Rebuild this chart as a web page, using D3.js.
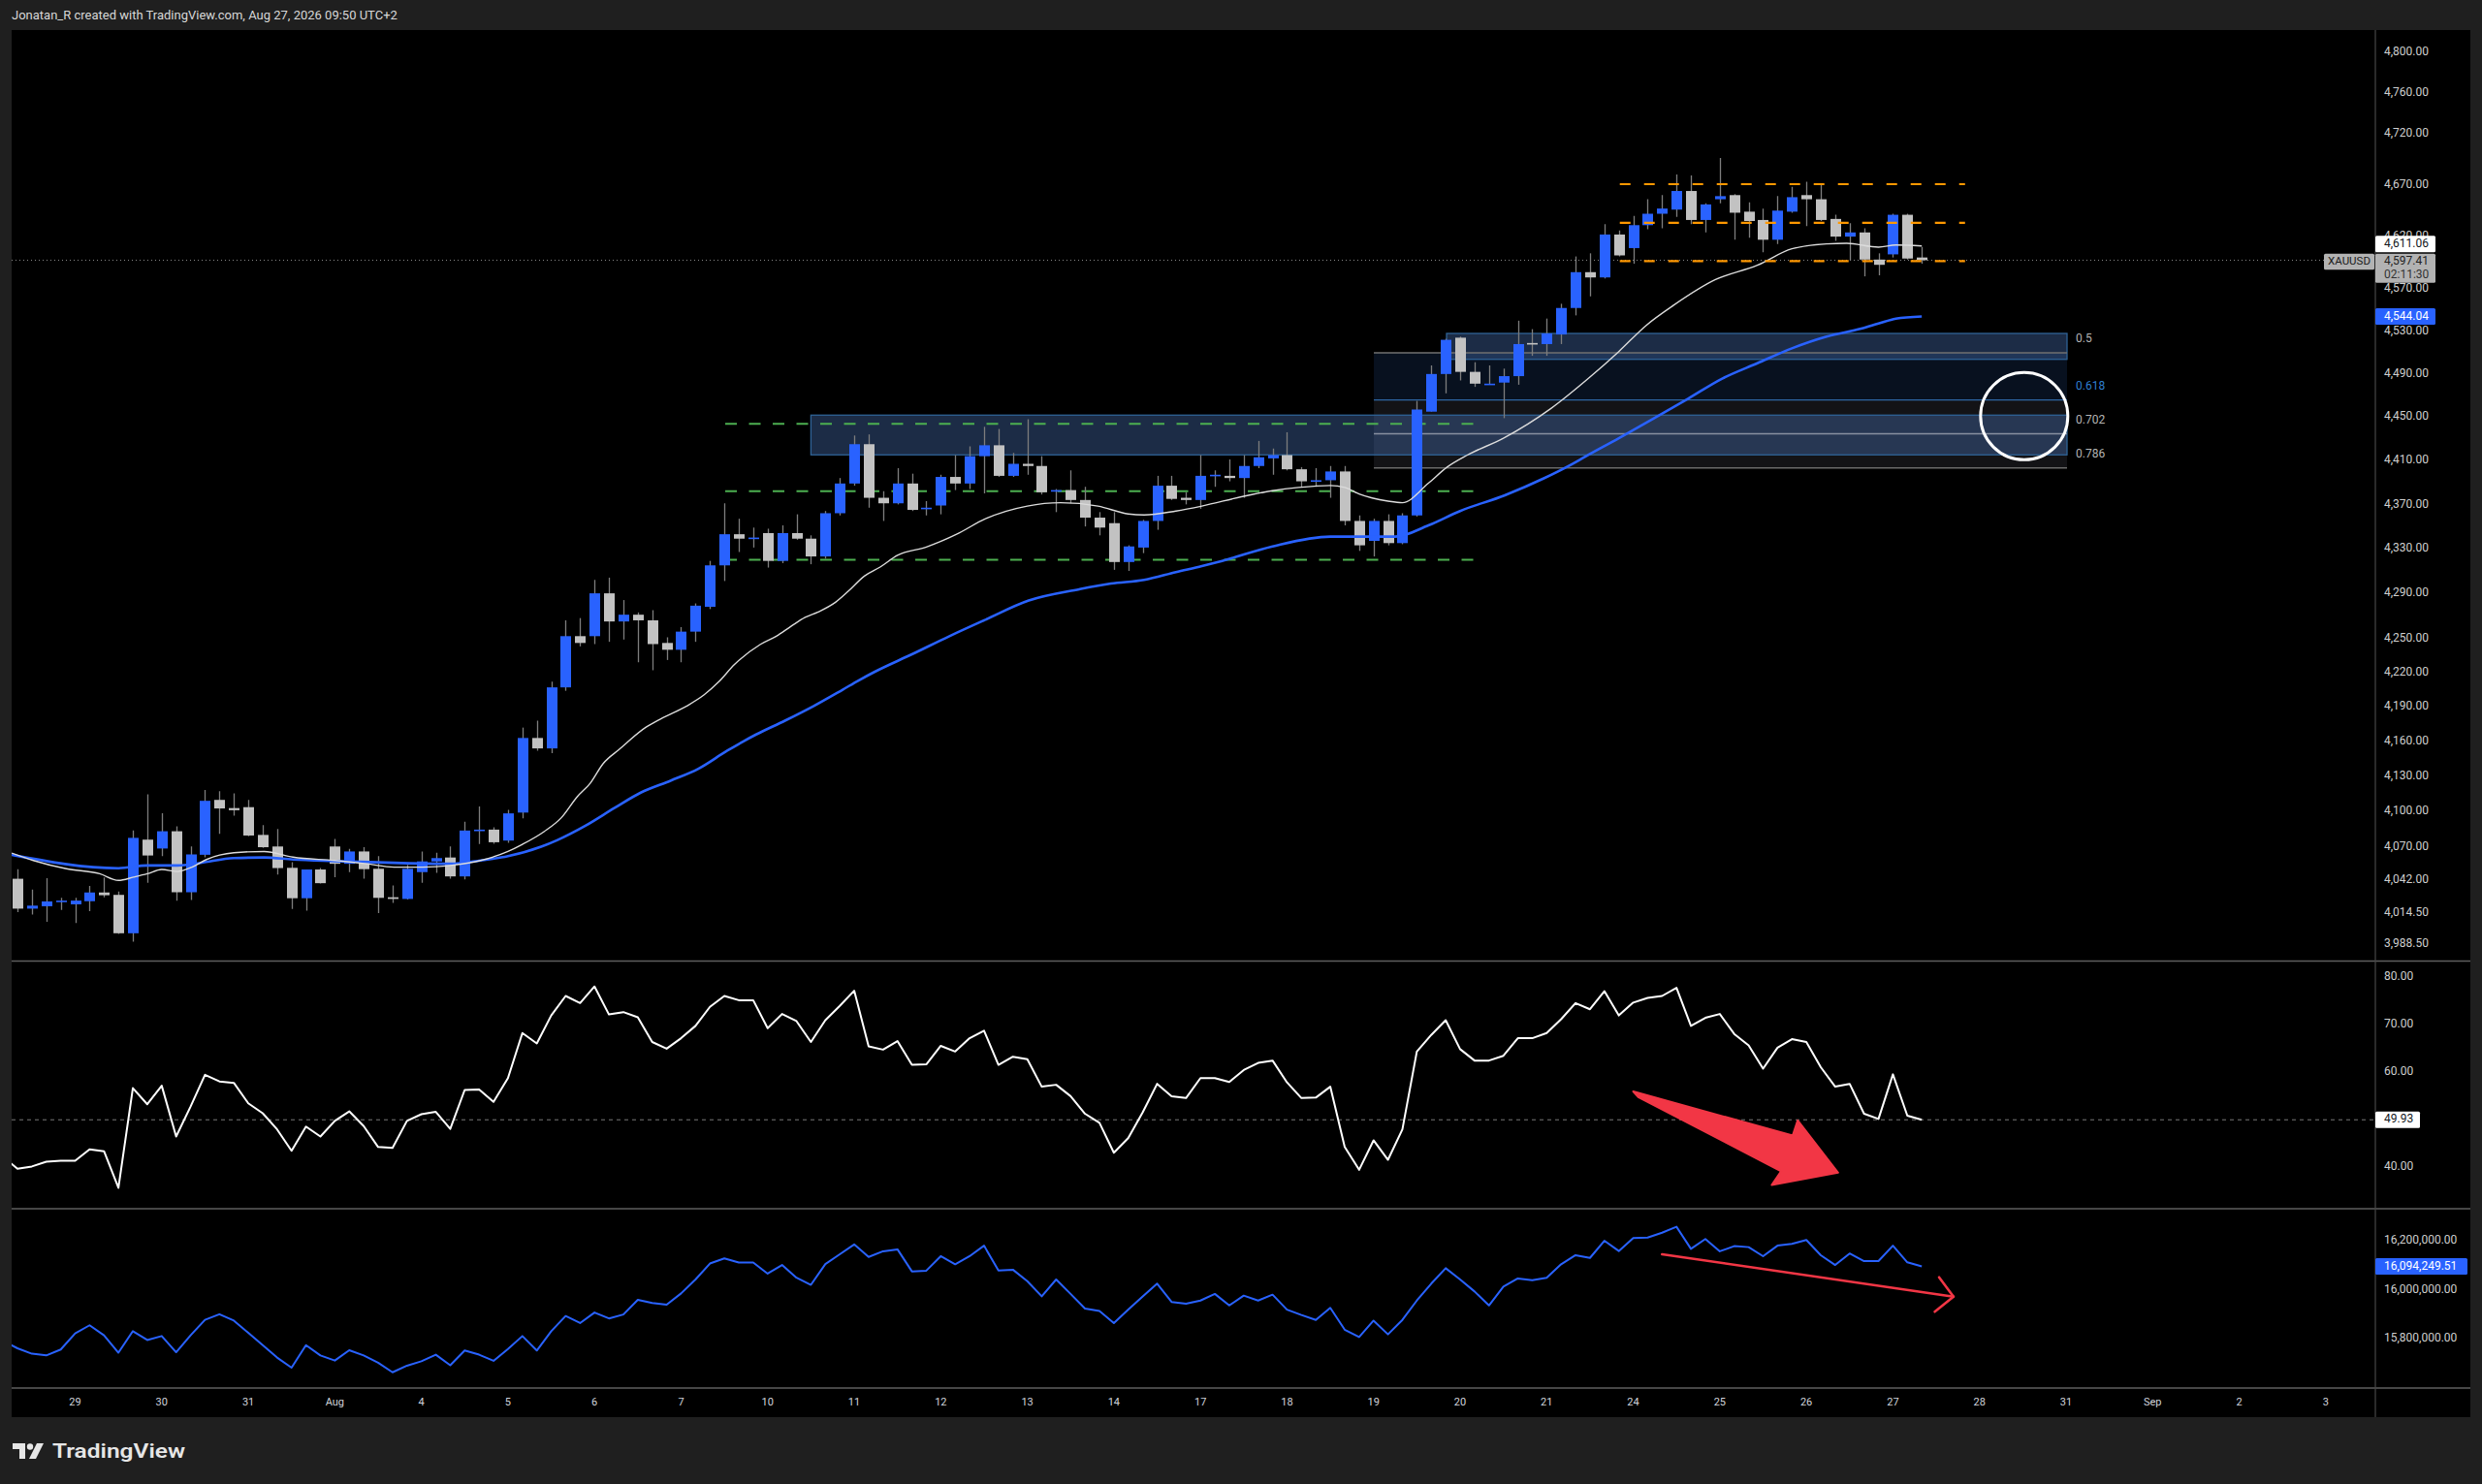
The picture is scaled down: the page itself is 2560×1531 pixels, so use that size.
<!DOCTYPE html>
<html><head><meta charset="utf-8">
<script src="https://cdn.jsdelivr.net/npm/d3@7"></script>
<style>html,body{margin:0;padding:0;background:#1f1f1f;overflow:hidden}</style>
</head><body>
<svg id="c" width="2560" height="1531"></svg>
<script>
// ---------------- DATA ----------------
const headerText = "Jonatan_R created with TradingView.com, Aug 27, 2026 09:50 UTC+2";
const symbol = "XAUUSD";
const countdown = "02:11:30";

const openP = [4043,4018,4020,4024,4021.6,4024.2,4031.5,4029.5,3997.5,4076,
4068.5,4083.1,4031.7,4063.2,4109.8,4102.8,4103.6,4080,4070.2,4052.2,
4026.7,4050.8,4070.2,4055.6,4066,4051.4,4027.5,4026.1,4048.6,4057.6,
4060.9,4045,4083.4,4084.5,4075.2,4099,4163,4154,4207,4252,
4252,4290,4265,4271,4266,4246,4240,4256,4278,4315,
4343,4339,4344,4319,4344,4339,4323,4362,4389,4425,
4376,4371,4389,4366,4369,4395,4389,4414,4424,4396,
4407,4405,4382,4383,4374,4358,4353,4318,4331,4355,
4387,4376,4374,4396,4396,4394,4405,4412,4415,4402,
4391,4392,4400,4355,4337,4355,4335,4360,4455,4490,
4524,4492,4480,4482,4488,4519,4518,4527,4552,4586,
4581,4622,4609,4631,4642,4646,4664,4636,4656,4660,
4644,4636,4617,4644,4660,4656,4637,4620,4624,4598,
4603,4641,4600];
const highP = [4051,4034,4043.5,4027,4027,4037,4044,4032.3,4083.7,4114.5,
4098.5,4087.3,4070.2,4118.2,4117.3,4115.4,4109.8,4088.4,4085,4057,
4050.8,4052,4076.6,4068.2,4069.6,4062,4037.4,4054.8,4066,4064.9,
4070.2,4091.2,4104.2,4086.5,4101.3,4172,4178,4212,4266,4268,
4302,4304,4284,4273,4275,4251,4260,4281,4319,4371,
4357,4349,4348,4351,4361,4342,4364,4394,4433,4434,
4382,4403,4398,4373,4397,4415,4423,4441,4439,4417,
4448,4414,4384,4401,4386,4363,4363,4333,4356,4396,
4396,4381,4415,4401,4411,4415,4428,4421,4436,4404,
4403,4405,4405,4360,4357,4361,4362,4465,4498,4523,
4525,4501,4498,4495,4540,4532,4542,4556,4601,4604,
4632,4626,4640,4656,4660,4680,4679,4652,4696,4661,
4653,4647,4659,4668,4673,4670,4641,4633,4628,4604,
4642,4642,4610];
const lowP = [4015,4013,4007,4017,4006,4016,4027.5,3997,3990.5,4039.6,
4062,4024.7,4025.3,4061,4080.9,4096.3,4078.9,4069,4046.6,4017.7,
4016.3,4039,4044.4,4048.6,4043,4014.3,4022.8,4025.6,4039.6,4048,
4043,4042.4,4072.2,4072.4,4073.3,4094,4152,4150,4204,4243,
4245,4247,4249,4229,4222,4231,4229,4247,4276,4301,
4327,4331,4313,4317,4338,4316,4321,4360,4387,4367,
4355,4370,4364,4360,4361,4383,4384,4380,4395,4395,
4397,4379,4363,4371,4350,4342,4311,4310,4326,4347,
4374,4370,4366,4386,4391,4376,4403,4397,4401,4386,
4386,4376,4351,4328,4323,4333,4334,4359,4455,4472,
4484,4478,4480,4449,4480,4507,4507,4518,4545,4563,
4580,4601,4594,4627,4628,4639,4632,4624,4652,4617,
4619,4605,4613,4643,4630,4635,4616,4597,4582,4583,
4600,4598,4594];
const closeP = [4018,4020.5,4024,4024.7,4024.7,4031.5,4029.2,3997.5,4077.5,4062.6,
4083.1,4031.7,4063.5,4109,4102.5,4101,4079.5,4069.6,4052,4026.7,
4050.8,4039.3,4055.6,4066,4051.1,4027,4026.1,4051.4,4057.6,4060.4,
4045,4083.7,4084.5,4073.8,4098.3,4163,4154,4207,4252,4246,
4290,4265,4271,4266,4245,4240,4256,4279,4315,4343,
4339,4340,4319,4344,4339,4323,4362,4389,4425,4376,
4371,4389,4365,4367,4395,4389,4414,4424,4396,4407,
4405,4381,4383,4374,4358,4349,4318,4332,4355,4387,
4375,4374,4396,4397,4394,4405,4413,4415,4402,4391,
4392,4400,4355,4333,4355,4335,4360,4457,4490,4522,
4492,4481,4481,4488,4518,4518,4528,4552,4586,4581,
4622,4602,4631,4642,4647,4664,4636,4651,4659,4643,
4635,4617,4645,4658,4656,4636,4620,4624,4598,4593,
4641,4599,4597.41];

// moving averages, read as [bar index, value] pairs
const whiteMA = [[-0.4,4064.6],[1.1,4058.4],[3.4,4051.4],[5.7,4047.2],[7.0,4041.6],[8.05,4044.4],[9.0,4047.2],[10.0,4050.8],[11.1,4049.1],[12.1,4052.8],[13.1,4059.2],[15.0,4064.9],[17.1,4066],[19.1,4061.2],[22.0,4058.4],[24.2,4055.6],[26.1,4052.8],[28.1,4052.8],[30.0,4054.2],[32.1,4058.4],[34.0,4066],[35.0,4072],[36.5,4082.8],[37.7,4094.6],[38.8,4112.5],[39.7,4124],[40.6,4140.9],[41.7,4153],[43.6,4172.6],[44.6,4179.6],[46.4,4190.8],[47.6,4200.5],[48.6,4211.7],[49.7,4227],[51.5,4244.8],[52.6,4252],[53.6,4260.5],[54.6,4268.6],[55.5,4273.4],[56.7,4282],[57.6,4292],[58.7,4305.4],[59.8,4313.5],[61,4324],[63,4331.5],[65.1,4343],[67.1,4357],[70.0,4368.5],[72.3,4371.5],[74.9,4368.5],[77.0,4361.3],[78.1,4360.4],[80.3,4364],[82.1,4368.5],[85,4377.4],[87,4382.5],[88.8,4385.4],[91,4387.2],[92,4385.4],[93,4379.5],[95,4373],[96,4371.5],[97.8,4389.3],[99.1,4404],[100.5,4415],[103,4430.5],[106.3,4458],[108.9,4486],[111,4511],[112.9,4535.6],[114.8,4554.6],[117.7,4578.9],[120.6,4592.6],[123,4608.3],[125.4,4613],[126.8,4613.6],[129,4609.9],[130.2,4612],[132,4611.06]];
const blueMA = [[-0.4,4063.2],[7.0,4051.9],[9.0,4054.2],[11.1,4054.2],[12.7,4056.4],[15.0,4060.4],[17.1,4060.9],[19.1,4059.2],[22.0,4057.9],[26.1,4056.4],[30.0,4055.6],[32.1,4058.4],[34.0,4062],[36.3,4070],[37.4,4075.5],[39.4,4088],[41.4,4103],[43.2,4116],[45.3,4126.4],[47.2,4136.5],[49.2,4152],[51.2,4166],[53.2,4178],[55.2,4190.8],[57.2,4205],[58.3,4213],[59.4,4220.5],[62,4236],[64.6,4252],[67,4266],[70.1,4283.6],[73.6,4293.6],[75.8,4298.7],[78.1,4302],[80.3,4309],[82.1,4314.4],[83.5,4319],[87,4332],[91,4340.8],[95.5,4340.8],[97.8,4351],[100,4364],[103.1,4378.3],[105.8,4393.7],[107.6,4405.6],[108.7,4413.8],[111,4430.5],[113.4,4448.5],[115.8,4467],[118.2,4485.9],[120.6,4500],[123,4514],[125.4,4525],[127.8,4532.5],[129,4537.3],[130.2,4542],[132,4544.04]];

// indicator values: the first entry belongs to the bar just before the first candle (index -1)
const indicatorStart = -1;
const rsiVals = [42.2,
39.6,40.1,41.1,41.3,41.3,43.7,43.3,35.6,56.6,53.2,
57.1,46.4,52.7,59.4,58.0,57.7,53.4,51.3,47.9,43.4,
48.5,46.4,49.7,51.7,48.6,44.2,44.0,49.7,51.1,51.6,
48.0,56.2,56.3,53.7,58.7,68.2,66.0,71.9,76.0,74.5,
78.0,72.1,72.6,71.5,66.3,64.9,67.1,69.7,73.7,76.0,
75.1,75.1,69.2,72.2,70.7,66.3,70.9,73.9,77.1,65.4,
64.7,66.5,61.5,61.6,65.5,64.3,67.1,68.7,61.5,63.2,
62.7,56.9,57.3,54.9,51.2,49.3,43.0,46.1,51.5,57.5,
54.9,54.5,58.7,58.7,57.9,60.4,61.9,62.4,57.8,54.5,
54.6,56.9,44.2,39.4,45.6,41.5,47.9,64.3,67.8,70.9,
64.8,62.4,62.4,63.4,67.1,67.1,68.2,71.1,74.5,73.2,
77.0,71.9,74.6,75.6,76.0,77.7,69.7,71.4,72.2,68.0,
65.6,60.7,65.1,66.9,66.3,61.0,56.9,57.5,51.2,50.1,
59.5,50.8,49.93];

const lowerVals = [15790000,
15760000,15738000,15731000,15755000,15821000,15854000,15813000,15742000,15830000,15794000,
15810000,15744000,15813000,15876000,15899000,15873000,15823000,15773000,15722000,15681000,
15773000,15731000,15710000,15752000,15731000,15701000,15662000,15689000,15707000,15734000,
15691000,15751000,15734000,15709000,15757000,15810000,15751000,15830000,15892000,15863000,
15906000,15882000,15898000,15958000,15945000,15938000,15984000,16041000,16106000,16127000,
16110000,16110000,16065000,16100000,16048000,16019000,16104000,16144000,16184000,16133000,
16156000,16164000,16074000,16077000,16136000,16103000,16136000,16179000,16078000,16081000,
16034000,15972000,16041000,15982000,15922000,15912000,15863000,15918000,15972000,16024000,
15949000,15942000,15955000,15982000,15935000,15975000,15955000,15979000,15918000,15896000,
15876000,15925000,15836000,15806000,15873000,15817000,15876000,15955000,16024000,16087000,
16041000,15992000,15935000,16012000,16045000,16038000,16048000,16103000,16140000,16129000,
16199000,16157000,16210000,16212000,16232000,16256000,16166000,16206000,16156000,16177000,
16173000,16136000,16179000,16186000,16202000,16140000,16100000,16147000,16116000,16116000,
16179000,16111000,16094249.51];

const priceTicks = [4800,4760,4720,4670,4620,4570,4530,4490,4450,4410,4370,4330,4290,4250,4220,4190,4160,4130,4100,4070,4042,4014.5,3988.5];
const rsiTicks = [40,50,60,70,80];
const lowerTicks = [15800000,16000000,16200000];
const dayLabels = ["29","30","31","Aug","4","5","6","7","10","11","12","13","14","17","18","19","20","21","24","25","26","27","28","31","Sep","2","3"];
const dayIdx = [4,10,16,22,28,34,40,46,52,58,64,70,76,82,88,94,100,106,112,118,124,130,136,142,148,154,160];

const lastPrice = 4597.41, whiteLast = 4611.06, blueLast = 4544.04, rsiLast = 49.93, lowerLast = 16094249.51;

// annotations
const zones = [{from:55, to:142.07, top:4451.8, bottom:4415.2},{from:99.06, to:142.07, top:4528, bottom:4503.7}];
const fib = {from:94.02, to:142.07, high:4696, low:4323.6};
const fibLevels = [0.5,0.618,0.702,0.786];
const greenLevels = [4443.8,4382,4320];
const greenRange = [49.06,101.4];
const orangeLevels = [4670.6,4633.2,4596.6];
const orangeRange = [111.07,135.0];
const circleAnno = {idx:139.1, price:4450.9};
const rsiArrowIdx = [112.0,123.05,123.4,126.2,121.6,122.25,112.35];
const rsiArrowVal = [55.9,46.6,49.8,38.8,36.2,39.1,54.7];
const lowArrowIdx = [114.0,134.2];
const lowArrowVal = [16143800,15970900];
const lowArrowHeadIdx = [133.2,134.2,132.9];
const lowArrowHeadVal = [16050000,15970900,15909200];

// ---------------- LAYOUT ----------------
const L = 12, R = 2548, AX = 2450, T = 31, MB = 991.5, RB = 1247, LB = 1432, TB = 1462;
const FONT = "Roboto, 'Liberation Sans', sans-serif";
const fmt2 = d3.format(",.2f");

const x = d3.scaleLinear().domain([0,160]).range([18,2398.8]);
const yMain = d3.scaleLog().domain([3988.5,4800]).range([974,54.3]);
const yRsi = d3.scaleLinear().domain([40,80]).range([1203.9,1007.9]);
const yLow = d3.scaleLinear().domain([15800000,16200000]).range([1380.9,1279.8]);

const svg = d3.select('#c');
svg.append('rect').attr('width',2560).attr('height',1531).attr('fill','#1f1f1f');
svg.append('rect').attr('x',L).attr('y',T).attr('width',R-L).attr('height',TB-T).attr('fill','#000');

svg.append('text').attr('x',12).attr('y',17).attr('dominant-baseline','middle')
  .attr('fill','#d8d8d8').style('font-family',FONT).style('font-size','13px').text(headerText);

const defs = svg.append('defs');
defs.append('clipPath').attr('id','cm').append('rect').attr('x',L).attr('y',T).attr('width',AX-L).attr('height',MB-T);
defs.append('clipPath').attr('id','cr').append('rect').attr('x',L).attr('y',MB).attr('width',AX-L).attr('height',RB-MB);
defs.append('clipPath').attr('id','cl').append('rect').attr('x',L).attr('y',RB).attr('width',AX-L).attr('height',LB-RB);

const gM = svg.append('g').attr('clip-path','url(#cm)');
const gR = svg.append('g').attr('clip-path','url(#cr)');
const gL = svg.append('g').attr('clip-path','url(#cl)');

// ---- fib bands
const fibPrice = lv => fib.high - lv*(fib.high - fib.low);
const bandFill = ['#08111f','#131316','#131316'];
for (let k=0;k<fibLevels.length-1;k++){
  const y1 = yMain(fibPrice(fibLevels[k])), y2 = yMain(fibPrice(fibLevels[k+1]));
  gM.append('rect').attr('x',x(fib.from)).attr('width',x(fib.to)-x(fib.from))
    .attr('y',y1).attr('height',y2-y1).attr('fill',bandFill[k]);
}
// ---- zones
gM.selectAll('rect.zone').data(zones).join('rect').attr('class','zone')
  .attr('x',d=>x(d.from)).attr('width',d=>x(d.to)-x(d.from))
  .attr('y',d=>yMain(d.top)).attr('height',d=>yMain(d.bottom)-yMain(d.top))
  .attr('fill','rgba(70,110,175,0.40)').attr('stroke','#2f6396').attr('stroke-width',1.3);
// ---- fib lines
const fibLineColor = ['#707070','#2d66a3','#8890a0','#6a6a6a'];
fibLevels.forEach((lv,k)=>{
  const yy = yMain(fibPrice(lv));
  gM.append('line').attr('x1',x(fib.from)).attr('x2',x(fib.to)).attr('y1',yy).attr('y2',yy)
    .attr('stroke',fibLineColor[k]).attr('stroke-width',1.4);
});
const fibLabelColor = ['#b5b5b5','#2f7fd0','#b5b5b5','#b5b5b5'];
fibLevels.forEach((lv,k)=>{
  svg.append('text').attr('x',x(fib.to)+9).attr('y',yMain(fibPrice(lv))-14)
    .attr('dominant-baseline','middle').attr('fill',fibLabelColor[k])
    .style('font-family',FONT).style('font-size','12px').text(String(lv));
});

// ---- green dashed lines
greenLevels.forEach(p=>{
  gM.append('line').attr('x1',x(greenRange[0])).attr('x2',x(greenRange[1]))
    .attr('y1',yMain(p)).attr('y2',yMain(p)).attr('stroke','#4caf50').attr('stroke-width',2)
    .attr('stroke-dasharray','12,12.5');
});

// ---- current price dotted line
gM.append('line').attr('x1',L).attr('x2',2397).attr('y1',yMain(lastPrice)).attr('y2',yMain(lastPrice))
  .attr('stroke','#8a8a8a').attr('stroke-width',1).attr('stroke-dasharray','1,3');

// ---- candles
const candles = openP.map((o,i)=>({i,o,h:highP[i],l:lowP[i],c:closeP[i]}));
gM.selectAll('line.wick').data(candles).join('line').attr('class','wick')
  .attr('x1',d=>Math.round(x(d.i))+0.5).attr('x2',d=>Math.round(x(d.i))+0.5)
  .attr('y1',d=>yMain(d.h)).attr('y2',d=>yMain(d.l))
  .attr('stroke','#7d7d7d').attr('stroke-width',1.3);
gM.selectAll('rect.body').data(candles).join('rect').attr('class','body')
  .attr('x',d=>Math.round(x(d.i))-5).attr('width',11)
  .attr('y',d=>yMain(Math.max(d.o,d.c)))
  .attr('height',d=>Math.max(1.6, yMain(Math.min(d.o,d.c))-yMain(Math.max(d.o,d.c))))
  .attr('fill',d=>d.c>=d.o?'#2962ff':'#c2c2c2');

// ---- moving averages
const maLine = d3.line().x(d=>x(d[0])).y(d=>yMain(d[1])).curve(d3.curveMonotoneX);
gM.append('path').attr('d',maLine(blueMA)).attr('fill','none').attr('stroke','#2962ff').attr('stroke-width',2.6);
gM.append('path').attr('d',maLine(whiteMA)).attr('fill','none').attr('stroke','#dcdcdc').attr('stroke-width',1.4);

// ---- orange dashed lines
orangeLevels.forEach(p=>{
  gM.append('line').attr('x1',x(orangeRange[0])).attr('x2',x(orangeRange[1]))
    .attr('y1',yMain(p)).attr('y2',yMain(p)).attr('stroke','#ff9800').attr('stroke-width',2.2)
    .attr('stroke-dasharray','11,14');
});

// ---- circle
gM.append('circle').attr('cx',x(circleAnno.idx)).attr('cy',yMain(circleAnno.price)).attr('r',45)
  .attr('fill','none').attr('stroke','#ffffff').attr('stroke-width',3);

// ---- RSI pane
gR.append('line').attr('x1',L).attr('x2',AX).attr('y1',yRsi(rsiLast)).attr('y2',yRsi(rsiLast))
  .attr('stroke','#777').attr('stroke-width',1).attr('stroke-dasharray','4,4');
gR.append('path').attr('d',d3.line().x((d,i)=>x(i+indicatorStart)).y(d=>yRsi(d))(rsiVals))
  .attr('fill','none').attr('stroke','#ffffff').attr('stroke-width',2).attr('stroke-linejoin','round');
const arrowPts = rsiArrowIdx.map((v,k)=>[x(v), yRsi(rsiArrowVal[k])]);
gR.append('polygon').attr('points',arrowPts.map(p=>p.join(',')).join(' '))
  .attr('fill','#f23645').attr('stroke','#f23645').attr('stroke-width',2).attr('stroke-linejoin','round');

// ---- lower pane
gL.append('path').attr('d',d3.line().x((d,i)=>x(i+indicatorStart)).y(d=>yLow(d))(lowerVals))
  .attr('fill','none').attr('stroke','#2962ff').attr('stroke-width',2).attr('stroke-linejoin','round');
gL.append('line').attr('x1',x(lowArrowIdx[0])).attr('x2',x(lowArrowIdx[1]))
  .attr('y1',yLow(lowArrowVal[0])).attr('y2',yLow(lowArrowVal[1]))
  .attr('stroke','#f23645').attr('stroke-width',2.6).attr('stroke-linecap','round');
gL.append('path').attr('d',d3.line().x((d,k)=>x(d)).y((d,k)=>yLow(lowArrowHeadVal[k]))(lowArrowHeadIdx))
  .attr('fill','none').attr('stroke','#f23645').attr('stroke-width',2.6).attr('stroke-linecap','round').attr('stroke-linejoin','round');

// ---- separators
[MB,RB,LB].forEach(yy=>{
  svg.append('line').attr('x1',L).attr('x2',R).attr('y1',yy).attr('y2',yy).attr('stroke','#5e5e5e').attr('stroke-width',1.6);
});
svg.append('line').attr('x1',AX).attr('x2',AX).attr('y1',T).attr('y2',TB).attr('stroke','#474747').attr('stroke-width',1.2);

// ---- axis labels
const axisText = (g,xx,yy,txt,color)=>g.append('text').attr('x',xx).attr('y',yy).attr('dominant-baseline','middle')
  .attr('fill',color||'#cfcfcf').style('font-family',FONT).style('font-size','12px').text(txt);
priceTicks.forEach(t=>axisText(svg,2459,yMain(t),fmt2(t)));
rsiTicks.forEach(t=>axisText(svg,2459,yRsi(t),fmt2(t)));
lowerTicks.forEach(t=>axisText(svg,2459,yLow(t),fmt2(t)));

dayLabels.forEach((lab,k)=>{
  svg.append('text').attr('x',x(dayIdx[k])).attr('y',1447).attr('text-anchor','middle').attr('dominant-baseline','middle')
    .attr('fill','#d1d4dc').style('font-family',FONT).style('font-size','11px').text(lab);
});

// ---- price labels on axis
function boxLabel(x0,w,yc,h,fill,txt,color){
  svg.append('rect').attr('x',x0).attr('y',yc-h/2).attr('width',w).attr('height',h).attr('fill',fill).attr('rx',1.5);
  svg.append('text').attr('x',x0+9).attr('y',yc).attr('dominant-baseline','middle').attr('fill',color)
    .style('font-family',FONT).style('font-size','12px').text(txt);
}
// white MA value
boxLabel(AX,62,251.7,17,'#ffffff',fmt2(whiteLast),'#131722');
// current price + countdown
svg.append('rect').attr('x',AX).attr('y',261.7).attr('width',62).attr('height',30).attr('fill','#b2b2b2').attr('rx',1.5);
svg.append('text').attr('x',AX+9).attr('y',269.5).attr('dominant-baseline','middle').attr('fill','#222')
  .style('font-family',FONT).style('font-size','12px').text(fmt2(lastPrice));
svg.append('text').attr('x',AX+9).attr('y',283.5).attr('dominant-baseline','middle').attr('fill','#333')
  .style('font-family',FONT).style('font-size','12px').text(countdown);
// symbol tag
svg.append('rect').attr('x',2397).attr('y',261.7).attr('width',52).attr('height',16.6).attr('fill','#b2b2b2').attr('rx',1.5);
svg.append('text').attr('x',2423).attr('y',270.2).attr('text-anchor','middle').attr('dominant-baseline','middle').attr('fill','#1a1a1a')
  .style('font-family',FONT).style('font-size','11.5px').text(symbol);
// blue MA value
boxLabel(AX,62,yMain(blueLast),17,'#2962ff',fmt2(blueLast),'#ffffff');
// RSI value
boxLabel(AX,46,yRsi(rsiLast),17,'#ffffff',fmt2(rsiLast),'#131722');
// lower value
boxLabel(AX,95,yLow(lowerLast),17,'#2962ff',fmt2(lowerLast),'#ffffff');

// ---- footer logo
const lg = svg.append('g').attr('fill','#e6e6e6');
lg.append('path').attr('d','M13,1489 h13 v16 h-6 v-10 h-7 z');
lg.append('circle').attr('cx',31).attr('cy',1492.5).attr('r',3.2);
lg.append('path').attr('d','M30,1505 L38,1489 H45 L37,1505 Z');
lg.append('text').attr('x',54).attr('y',1498).attr('dominant-baseline','middle')
  .style('font-family',FONT).style('font-size','21px').style('font-weight','600')
  .attr('textLength',137).attr('lengthAdjust','spacingAndGlyphs').text('TradingView');
</script>
</body></html>
